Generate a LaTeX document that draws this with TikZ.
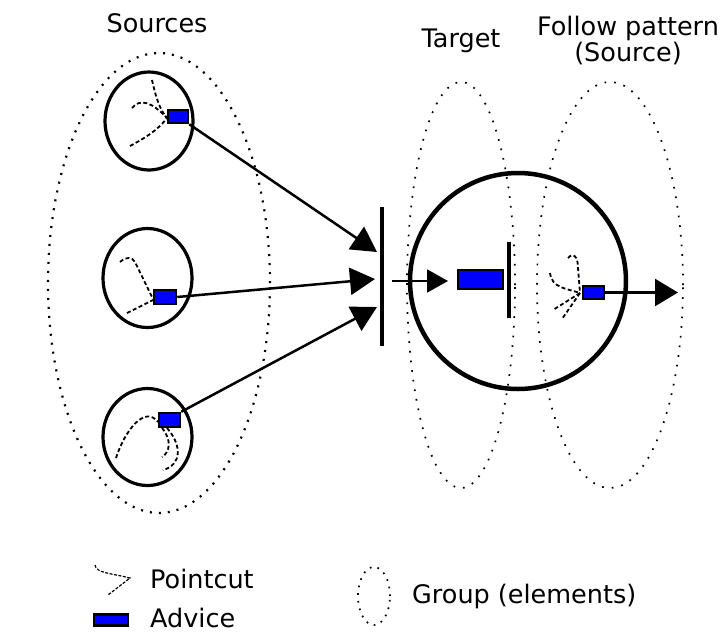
\documentclass[tikz,border=0pt]{standalone}
\usepackage{fontspec}
\setmainfont{DejaVu Sans}
\usetikzlibrary{arrows.meta,positioning,shapes.geometric}
\tikzset{
  advice/.style 2 args={draw=black,line width=2.5pt,fill=blue,inner sep=0pt,
    minimum width=#1,minimum height=#2},
  pointcut/.style={line width=1.8pt,dash pattern=on 4pt off 2.5pt},
  group/.style={draw,ellipse,line width=2.2pt,dash pattern=on 2pt off 7pt,
    minimum width=#1},
  element/.style={draw,ellipse,line width=3.2pt,minimum width=#1},
  bigtip/.style={-{Triangle[length=25pt,width=27pt]},line width=2.5pt},
  label/.style={font=\fontsize{25.5}{26}\selectfont,inner sep=0pt}
}
\begin{document}
\begin{tikzpicture}[x=1pt,y=-1pt]
  \useasboundingbox (0,0) rectangle (721,633);
  % groups
  \node[group=222pt,minimum height=460pt] (sources) at (159,283) {};
  \node[group=108pt,minimum height=406pt,line width=1.7pt,dash pattern=on 1.7pt off 8pt] (target) at (461,285) {};
  \node[group=146pt,minimum height=406pt,line width=1.7pt,dash pattern=on 1.7pt off 8pt] (follow) at (610,285) {};
  \node[label,anchor=base] at (157,32) {Sources};
  \node[label,anchor=base] at (461,47) {Target};
  \node[label,align=center] at (628,40) {Follow pattern\\(Source)};
  % source elements
  \node[element=88pt,minimum height=98pt] (src1) at (149,121) {};
  \node[element=89pt,minimum height=99pt] (src2) at (147.5,278) {};
  \node[element=89pt,minimum height=97pt] (src3) at (147.5,437) {};
  \draw[pointcut] (152,80) .. controls (156,98) and (160,110) .. (167,118);
  \draw[pointcut] (132,108) .. controls (140,98) and (152,102) .. (167,118);
  \draw[pointcut] (130,146) .. controls (145,138) and (158,130) .. (167,118);
  \draw[pointcut] (120,262) .. controls (127,256) and (132,257) .. (135,262) -- (153,299);
  \draw[pointcut] (127,313) -- (153,300);
  \draw[pointcut] (116,458) .. controls (125,430) and (145,405) .. (158,422);
  \draw[pointcut] (162,428) .. controls (172,440) and (170,452) .. (162,457);
  \draw[pointcut] (167,428) .. controls (182,445) and (182,465) .. (163,470);
  \node[advice={20pt}{13pt}] (adv1) at (178,116.5) {};
  \node[advice={22pt}{14pt}] (adv2) at (165,297) {};
  \node[advice={21pt}{14pt}] (adv3) at (169.5,420) {};
  % weaving
  \node[fill=black,inner sep=0pt,minimum width=4pt,minimum height=139pt] (bar) at (382,276) {};
  \coordinate (in1) at (377,252);
  \coordinate (in2) at (375,279);
  \coordinate (in3) at (377,307);
  \draw[bigtip] (adv1.south east) -- (in1);
  \draw[bigtip] (adv2.east) -- (in2);
  \draw[bigtip] (adv3.north east) -- (in3);
  % target element
  \node[draw,circle,line width=4.5pt,minimum size=216pt] (tgt) at (518,281) {};
  \coordinate (t0) at (392,281);
  \coordinate (t1) at (448,281);
  \draw[-{Triangle[length=21pt,width=23pt]},line width=2pt] (t0) -- (t1);
  \node[advice={45pt}{19pt}] (adv4) at (480.5,279.5) {};
  \node[fill=black,inner sep=0pt,minimum width=3.5pt,minimum height=76pt] (stop) at (509,280) {};
  % follow pattern
  \draw[pointcut] (550,273) .. controls (552,288) and (565,288) .. (580,293);
  \draw[pointcut] (568,258) .. controls (573,252) and (578,256) .. (578,268) -- (580,293);
  \draw[pointcut] (580,293) -- (553,310);
  \draw[pointcut] (580,293) -- (562,319);
  \node[advice={21pt}{13pt}] (adv5) at (593.5,292.5) {};
  \coordinate (out) at (678,292.5);
  \draw[-{Triangle[length=23pt,width=27pt]},line width=2.5pt] (adv5.east) -- (out);
  % legend
  \draw[pointcut,line width=1.2pt,dash pattern=on 3pt off 1.5pt]
    (95,565) .. controls (96,573) and (110,573) .. (130,578) -- (108,595);
  \node[label,anchor=base west] (lpc) at (150,588) {Pointcut};
  \node[advice={34pt}{11pt}] (ladv) at (111,620) {};
  \node[label,anchor=base west] (lad) at (150,627) {Advice};
  \node[group=32pt,minimum height=58pt,line width=1.7pt,dash pattern=on 1.7pt off 6pt] (lgr) at (374,596) {};
  \node[label,anchor=base west] (lgt) at (412,603) {Group (elements)};
\end{tikzpicture}
\end{document}
